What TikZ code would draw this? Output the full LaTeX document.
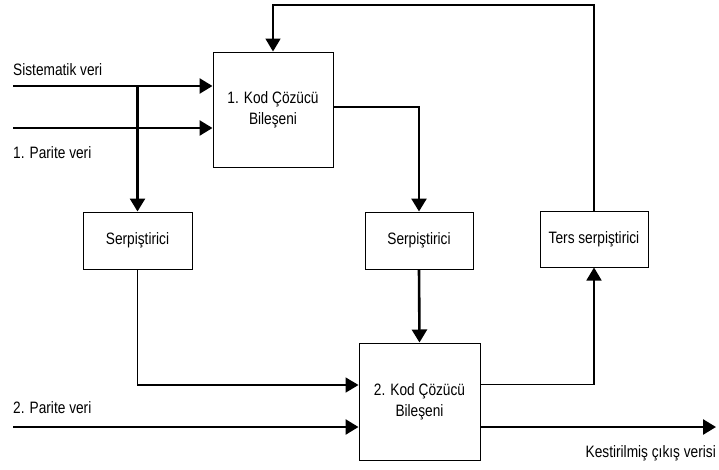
\documentclass[tikz,border=0pt]{standalone}
\usepackage{fontspec}
\setmainfont{Liberation Sans}[FakeStretch=0.83]
\usepackage{tikz}
\usetikzlibrary{positioning,calc,arrows.meta}
\tikzstyle{arrow} = [-{Triangle[length=13pt,width=15pt]}, line width=2.6pt]
\tikzstyle{tarrow} = [-{Triangle[length=13pt,width=15pt]}, line width=1.8pt]
\tikzstyle{block} = [draw, line width=1pt, align=center, inner sep=0pt]

\begin{document}
\begin{tikzpicture}[x=1pt, y=-1pt, font=\fontsize{16.5}{21}\selectfont]
    \useasboundingbox (0,0) rectangle (719,469);
    % decoders
    \node[block, minimum width=120pt, minimum height=115pt] (dec1) at (273,109.5) {1. Kod Çözücü\\Bileşeni};
    \node[block, minimum width=121pt, minimum height=117pt] (dec2) at (419.5,401.5) {2. Kod Çözücü\\Bileşeni};
    % interleavers
    \node[block, minimum width=109pt, minimum height=57pt] (serp1) at (137.5,240.5) {Serpiştirici};
    \node[block, minimum width=108pt, minimum height=57pt] (serp2) at (419,240.5) {Serpiştirici};
    \node[block, minimum width=108pt, minimum height=56pt] (ters) at (594,239) {Ters serpiştirici};
    % free ends
    \coordinate (sysin) at (13,86);
    \coordinate (par1in) at (13,128);
    \coordinate (par2in) at (13,427);
    \coordinate (out) at (716,427);
    \coordinate (fb) at (594,5);
    % labels
    \node[anchor=base west, inner sep=0pt] (lsys) at (13,75.5) {Sistematik veri};
    \node[anchor=base west, inner sep=0pt] (lpar1) at (13,158) {1. Parite veri};
    \node[anchor=base west, inner sep=0pt] (lpar2) at (13,413) {2. Parite veri};
    \node[anchor=base east, inner sep=0pt] (lout) at (716,457) {Kestirilmiş çıkış verisi};
    % connectors
    \draw[arrow] (sysin) -- ([yshift=23.5pt]dec1.west);
    \draw[arrow] (par1in) -- ([yshift=-18.5pt]dec1.west);
    \draw[arrow] (serp1.north |- sysin) -- (serp1.north);
    \draw[arrow] ([yshift=2.5pt]dec1.east) -| (serp2.north);
    \draw[arrow] (serp2.south) -- (dec2.north);
    \draw[tarrow] (serp1.south) |- ([yshift=16.5pt]dec2.west);
    \draw[arrow] (par2in) -- ([yshift=-25.5pt]dec2.west);
    \draw[tarrow] ([yshift=17pt]dec2.east) -| (ters.south);
    \draw[tarrow] (ters.north) -- (fb) -| (dec1.north);
    \draw[arrow] ([yshift=-25.5pt]dec2.east) -- (out);
\end{tikzpicture}
\end{document}
